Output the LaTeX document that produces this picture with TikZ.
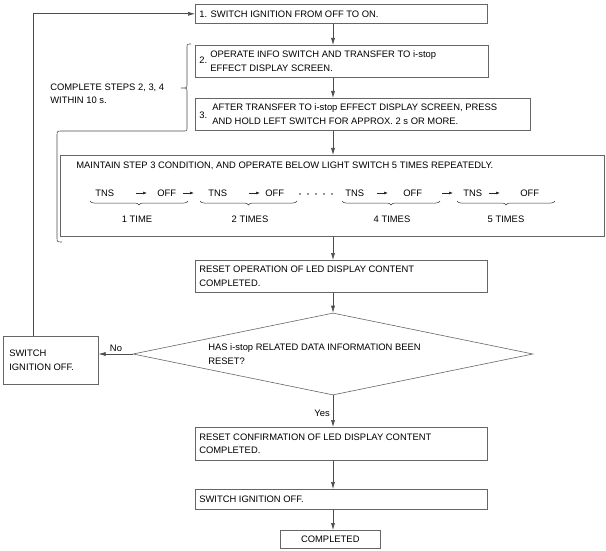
\documentclass[tikz,border=0pt]{standalone}
\usepackage{fontspec}
\setmainfont{Liberation Sans}
\usetikzlibrary{arrows.meta,decorations.pathreplacing,calc,shapes.geometric}
\begin{document}
\begin{tikzpicture}[x=1pt,y=-1pt,
  line width=0.6pt,
  font=\fontsize{9.4}{13.5}\selectfont,
  box/.style={draw=black!60, anchor=north west, inner sep=0pt},
  txt/.style={anchor=west, inner sep=0pt, align=left},
  arr/.style={draw=black!70, -{Latex[length=7pt,width=4pt]}},
  sarr/.style={draw=black!85, line width=0.6pt, -{Latex[length=4pt,width=3pt]}},
  ubrace/.style={draw=black!80, line width=0.5pt, decorate, decoration={brace,mirror,amplitude=4pt}},
]
\useasboundingbox (0,0) rectangle (606,551);
\coordinate (cx) at (333,0);
% boxes
\node[box, minimum width=292pt, minimum height=19pt] (b1) at (195,4) {};
\node[txt] (t1) at ($(b1.west)+(4,0)$) {1. SWITCH IGNITION FROM OFF TO ON.};

\node[box, minimum width=293pt, minimum height=32pt] (b2) at (195,45) {};
\node[txt] (n2) at ($(b2.west)+(4,-1)$) {2.};
\node[txt] (t2) at ($(b2.west)+(15,0)$) {OPERATE INFO SWITCH AND TRANSFER TO i-stop\\EFFECT DISPLAY SCREEN.};

\node[box, minimum width=335pt, minimum height=32pt] (b3) at (195,98) {};
\node[txt] (n3) at ($(b3.west)+(4,1)$) {3.};
\node[txt] (t3) at ($(b3.west)+(17,0)$) {AFTER TRANSFER TO i-stop EFFECT DISPLAY SCREEN, PRESS\\AND HOLD LEFT SWITCH FOR APPROX. 2 s OR MORE.};

\node[txt] (cs) at (50,94) {COMPLETE STEPS 2, 3, 4\\WITHIN 10 s.};

\node[box, minimum width=544pt, minimum height=81pt] (b4) at (60,155) {};
\node[txt] (t4) at (76,166) {MAINTAIN STEP 3 CONDITION, AND OPERATE BELOW LIGHT SWITCH 5 TIMES REPEATEDLY.};

\node[txt] (r1) at (95,193) {TNS};
\node[txt] (r2) at (157,193) {OFF};
\node[txt] (r3) at (208,193) {TNS};
\node[txt] (r4) at (265,193) {OFF};
\node[txt] (r5) at (345,193) {TNS};
\node[txt] (r6) at (403,193) {OFF};
\node[txt] (r7) at (463,193) {TNS};
\node[txt] (r8) at (520,193) {OFF};
\draw[sarr] (136,193) -- (147,193);
\draw[sarr] (183,193) -- (194,193);
\draw[sarr] (249,193) -- (260,193);
\draw[sarr] (377,193) -- (388,193);
\draw[sarr] (442,193) -- (453,193);
\draw[sarr] (489,193) -- (500,193);
\foreach \x in {300,308,316,324,332} \fill[black!85] (\x,194) circle (0.8pt);
\draw[ubrace] (90,201) -- (188,201);
\draw[ubrace] (200,201) -- (297,201);
\draw[ubrace] (342,201) -- (440,201);
\draw[ubrace] (457,201) -- (555,201);
\node[inner sep=0pt] (l1) at (137,219) {1 TIME};
\node[inner sep=0pt] (l2) at (250,219) {2 TIMES};
\node[inner sep=0pt] (l4) at (392,219) {4 TIMES};
\node[inner sep=0pt] (l5) at (506,219) {5 TIMES};

\node[box, minimum width=292pt, minimum height=32pt] (b5) at (195,260) {};
\node[txt] (t5) at ($(b5.west)+(4,0)$) {RESET OPERATION OF LED DISPLAY CONTENT\\COMPLETED.};

\node[diamond, draw=black!60, inner sep=0pt, minimum width=400pt, minimum height=82pt] (dia) at (333,354) {};
\node[txt] (td) at (208,354) {HAS i-stop RELATED DATA INFORMATION BEEN\\RESET?};

\node[box, minimum width=95pt, minimum height=48pt] (sio) at (3,336) {};
\node[txt] (ts) at ($(sio.west)+(6,0)$) {SWITCH\\IGNITION OFF.};

\node[box, minimum width=292pt, minimum height=33pt] (b6) at (195,427) {};
\node[txt] (t6) at ($(b6.west)+(4,0)$) {RESET CONFIRMATION OF LED DISPLAY CONTENT\\COMPLETED.};

\node[box, minimum width=292pt, minimum height=20pt] (b7) at (195,489) {};
\node[txt] (t7) at ($(b7.west)+(4,0)$) {SWITCH IGNITION OFF.};

\node[box, minimum width=100pt, minimum height=18pt] (b8) at (280,530) {};
\node[inner sep=0pt] (t8) at (b8.center) {COMPLETED};

% connectors
\draw[arr] (b1.south -| cx) -- (b2.north -| cx);
\draw[arr] (b2.south -| cx) -- (b3.north -| cx);
\draw[arr] (b3.south -| cx) -- (b4.north -| cx);
\draw[arr] (b4.south -| cx) -- (b5.north -| cx);
\draw[arr] (b5.south -| cx) -- (dia.north);
\draw[arr] (dia.south) -- (b6.north -| cx);
\draw[arr] (b6.south -| cx) -- (b7.north -| cx);
\draw[arr] (b7.south -| cx) -- (b8.north -| cx);
\draw[arr] (dia.west) -- (sio.east |- dia.west);
\node[inner sep=0pt, anchor=south] (no) at (116,352) {No};
\node[inner sep=0pt, anchor=east] (yes) at (330,413) {Yes};
\coordinate (ls) at (33,336);
\draw[arr] (ls) |- (b1.west);

% bracket
\draw[draw=black!70] (191,44) .. controls (187,44) .. (187,48) -- (187,84)
  .. controls (187,88) .. (181,88) .. controls (187,88) .. (187,92) -- (187,127)
  .. controls (187,131) .. (183,131) -- (62,131) .. controls (57,131) .. (57,136)
  -- (57,237) .. controls (57,242) .. (62,242);
\end{tikzpicture}
\end{document}
